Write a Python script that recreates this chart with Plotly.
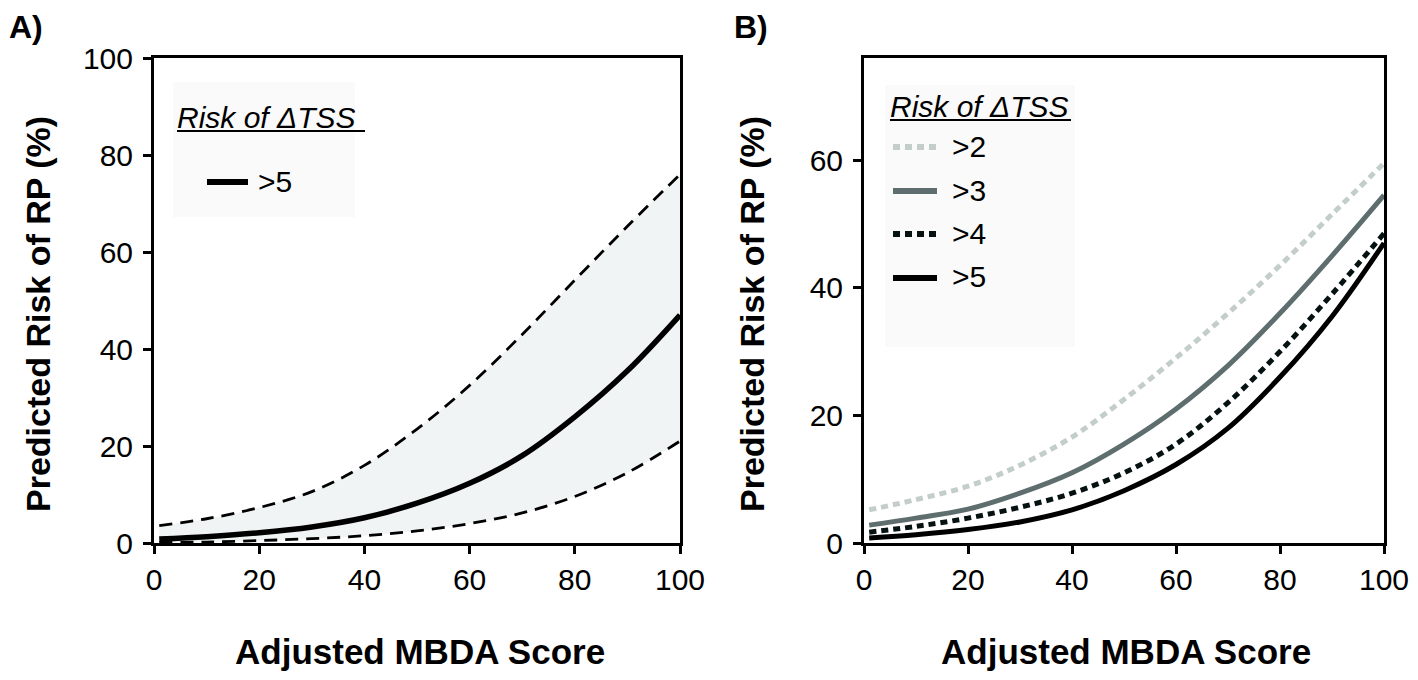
import plotly.graph_objects as go

# ---------------- data ----------------
score = [1, 10, 20, 30, 40, 50, 60, 70, 80, 90, 100]

# Panel A: risk of dTSS > 5 with confidence band
a_mid = [0.8, 1.3, 2.1, 3.3, 5.2, 8.2, 12.3, 18.0, 26.0, 35.5, 47.0]
a_upper = [3.6, 5.0, 7.3, 10.6, 16.0, 23.5, 32.5, 43.0, 54.2, 65.3, 76.0]
a_lower = [0.1, 0.2, 0.5, 0.9, 1.5, 2.5, 4.0, 6.2, 9.6, 14.5, 21.0]

# Panel B: risk curves by dTSS threshold
b_names = [">2", ">3", ">4", ">5"]
b_gt2 = [5.2, 6.8, 8.9, 12.2, 16.6, 22.5, 29.0, 36.0, 43.5, 51.5, 59.5]
b_gt3 = [2.8, 3.9, 5.3, 7.8, 11.0, 15.5, 21.0, 27.8, 36.0, 45.0, 54.5]
b_gt4 = [1.7, 2.6, 3.9, 5.6, 7.8, 11.0, 15.5, 22.0, 30.0, 39.0, 48.5]
b_gt5 = [0.8, 1.3, 2.1, 3.3, 5.2, 8.2, 12.3, 18.0, 26.0, 35.5, 47.0]
b_values = [b_gt2, b_gt3, b_gt4, b_gt5]

x_ticks = [0, 20, 40, 60, 80, 100]
a_y_ticks = [0, 20, 40, 60, 80, 100]
b_y_ticks = [0, 20, 40, 60]

# ---------------- styles ----------------
# The page body has an 8px margin, so the figure is sized to fit the window
# and screen positions are converted to figure fractions with that offset.
OFF = 8
W, H = 1418 - 2 * OFF, 680 - 2 * OFF
FONT = "Liberation Sans, Arial, sans-serif"
b_colors = ["#c3cdca", "#5e6d6d", "#061212", "#000000"]
b_dash = ["7px,5px", "solid", "7px,5px", "solid"]

def px(x):
    return (x - OFF) / W

def py(y):
    return 1 - (y - OFF) / H

fig = go.Figure()

# Panel A
fig.add_trace(go.Scatter(x=score, y=a_lower, mode="lines", line=dict(color="black", width=2.8, dash="13px,8px", shape="spline"),
                         xaxis="x", yaxis="y", showlegend=False, hoverinfo="skip"))
fig.add_trace(go.Scatter(x=score, y=a_upper, mode="lines", line=dict(color="black", width=2.8, dash="13px,8px", shape="spline"),
                         fill="tonexty", fillcolor="#f1f4f4", xaxis="x", yaxis="y", showlegend=False, hoverinfo="skip"))
fig.add_trace(go.Scatter(x=score, y=a_mid, mode="lines", line=dict(color="black", width=5.5, shape="spline"),
                         xaxis="x", yaxis="y", name=">5", showlegend=False))

# Panel B
for name, vals, col, dsh in zip(b_names, b_values, b_colors, b_dash):
    fig.add_trace(go.Scatter(x=score, y=vals, mode="lines", name=name,
                             line=dict(color=col, width=5, dash=dsh, shape="spline"),
                             xaxis="x2", yaxis="y2", showlegend=False))

axis_common = dict(
    showgrid=False, zeroline=False, showline=True, linecolor="black", linewidth=3,
    mirror=True, ticks="outside", ticklen=8, tickwidth=3, tickcolor="black",
    tickfont=dict(family=FONT, size=30, color="black"), automargin=False,
)

fig.update_layout(
    template="none",
    width=W, height=H,
    margin=dict(l=0, r=0, t=0, b=0, pad=0),
    paper_bgcolor="white", plot_bgcolor="white",
    xaxis=dict(domain=[px(154), px(680)], range=[0, 100], tickvals=x_ticks, anchor="y", **axis_common),
    yaxis=dict(domain=[py(543), py(58)], range=[0, 100], tickvals=a_y_ticks, anchor="x",
               ticklabelstandoff=4, **axis_common),
    xaxis2=dict(domain=[px(864), px(1384)], range=[0, 100], tickvals=x_ticks, anchor="y2", **axis_common),
    yaxis2=dict(domain=[py(543), py(58)], range=[0, 76], tickvals=b_y_ticks, anchor="x2",
                ticklabelstandoff=4, **axis_common),
    showlegend=False,
)

shapes = []
annotations = []

def text(x, y, s, size, bold=False, xanchor="left", yanchor="middle", angle=0):
    if bold:
        s = "<b>" + s + "</b>"
    annotations.append(dict(x=px(x), y=py(y), xref="paper", yref="paper", text=s, showarrow=False,
                            xanchor=xanchor, yanchor=yanchor, textangle=angle, borderpad=0,
                            font=dict(family=FONT, size=size, color="black")))

# Panel labels
text(8, 8, "A)", 32, bold=True, yanchor="top")
text(733, 8, "B)", 32, bold=True, yanchor="top")

# Axis titles
text(420, 672, "Adjusted MBDA Score", 35, bold=True, xanchor="center", yanchor="bottom")
text(1126, 672, "Adjusted MBDA Score", 35, bold=True, xanchor="center", yanchor="bottom")
text(38, 314, "Predicted Risk of RP (%)", 34, bold=True, xanchor="center", angle=-90)
text(752, 314, "Predicted Risk of RP (%)", 34, bold=True, xanchor="center", angle=-90)

# Legend boxes
shapes.append(dict(type="rect", xref="paper", yref="paper", x0=px(173), x1=px(355), y0=py(82), y1=py(217),
                   fillcolor="#fafafa", line=dict(width=0), layer="below"))
shapes.append(dict(type="rect", xref="paper", yref="paper", x0=px(885), x1=px(1075), y0=py(85), y1=py(347),
                   fillcolor="#fafafa", line=dict(width=0), layer="below"))

# Legend A
text(176, 117, "<i>Risk of ΔTSS</i>", 30)
shapes.append(dict(type="line", xref="paper", yref="paper", x0=px(177), x1=px(365), y0=py(131), y1=py(131),
                   line=dict(color="black", width=2)))
shapes.append(dict(type="line", xref="paper", yref="paper", x0=px(207), x1=px(248), y0=py(182), y1=py(182),
                   line=dict(color="black", width=6)))
text(257, 181, ">5", 30)

# Legend B
text(889, 106, "<i>Risk of ΔTSS</i>", 30)
shapes.append(dict(type="line", xref="paper", yref="paper", x0=px(890), x1=px(1071), y0=py(120), y1=py(120),
                   line=dict(color="black", width=2)))
for i, (name, col, dsh) in enumerate(zip(b_names, b_colors, b_dash)):
    yy = [147, 191, 234, 278][i]
    shapes.append(dict(type="line", xref="paper", yref="paper", x0=px(893), x1=px(937), y0=py(yy), y1=py(yy),
                       line=dict(color=col, width=6, dash=dsh)))
    text(951, yy - 1, name, 30)

fig.update_layout(shapes=shapes, annotations=annotations)

fig.write_html("out.html")
